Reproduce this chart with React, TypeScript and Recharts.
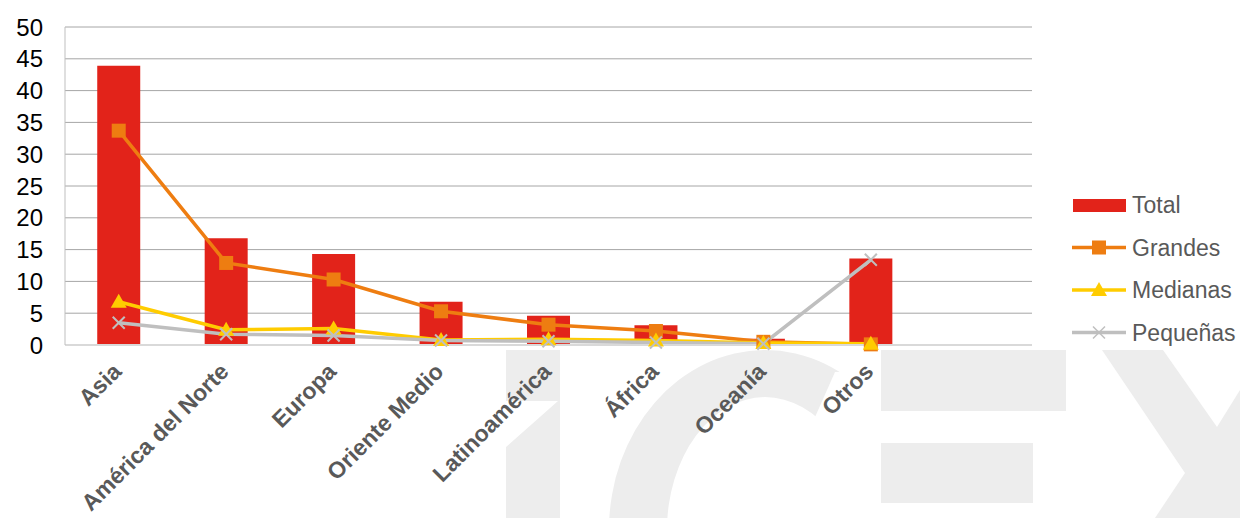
import React from "react"
import {
  ComposedChart,
  Bar,
  Line,
  XAxis,
  YAxis,
  CartesianGrid
} from "recharts"

const regions = [
  "Asia",
  "América del Norte",
  "Europa",
  "Oriente Medio",
  "Latinoamérica",
  "África",
  "Oceanía",
  "Otros",
  ""
]
const total = [43.9, 16.8, 14.3, 6.8, 4.6, 3.1, 1.0, 13.6, null]
const grandes = [33.7, 12.9, 10.3, 5.3, 3.2, 2.2, 0.5, 0.1, null]
const medianas = [6.8, 2.4, 2.6, 0.8, 0.9, 0.7, 0.3, 0.2, null]
const pequenas = [3.5, 1.7, 1.5, 0.7, 0.6, 0.4, 0.2, 13.4, null]
const yTicks = [0, 5, 10, 15, 20, 25, 30, 35, 40, 45, 50]

const RED = "#E2231A"
const ORANGE = "#EE7D11"
const YELLOW = "#FFCC00"
const GRAY = "#BFBFBF"
const FONT = "'Liberation Sans', Arial, sans-serif"

const data = regions.map((r, i) => ({
  region: r,
  total: total[i],
  grandes: grandes[i],
  medianas: medianas[i],
  pequenas: pequenas[i]
}))

const SquareDot = (props: any) => {
  const { cx, cy, index } = props
  if (cx == null || cy == null || props.value == null) return <g key={index} />
  return <rect key={index} x={cx - 7} y={cy - 7} width={14} height={14} fill={ORANGE} />
}

const TriangleDot = (props: any) => {
  const { cx, cy, index } = props
  if (cx == null || cy == null || props.value == null) return <g key={index} />
  return (
    <polygon
      key={index}
      points={`${cx},${cy - 8} ${cx + 8},${cy + 6} ${cx - 8},${cy + 6}`}
      fill={YELLOW}
    />
  )
}

const CrossDot = (props: any) => {
  const { cx, cy, index } = props
  if (cx == null || cy == null || props.value == null) return <g key={index} />
  return (
    <g key={index} stroke={GRAY} strokeWidth={2}>
      <line x1={cx - 6} y1={cy - 6} x2={cx + 6} y2={cy + 6} />
      <line x1={cx - 6} y1={cy + 6} x2={cx + 6} y2={cy - 6} />
    </g>
  )
}

const XTick = (props: any) => {
  const { x, y, payload } = props
  const tx = x + 4
  const ty = y + 20
  return (
    <text
      x={tx}
      y={ty}
      transform={`rotate(-45, ${tx}, ${ty})`}
      textAnchor="end"
      fontFamily={FONT}
      fontWeight="bold"
      fontSize={23}
      fill="#595959"
    >
      {payload.value}
    </text>
  )
}

const legendItems = [
  { name: "Total", kind: "bar", color: RED },
  { name: "Grandes", kind: "square", color: ORANGE },
  { name: "Medianas", kind: "triangle", color: YELLOW },
  { name: "Pequeñas", kind: "cross", color: GRAY }
]

const LegendBox = () => (
  <svg width={175} height={170} style={{ position: "absolute", left: 1066, top: 188 }}>
    {legendItems.map((it, i) => {
      const cy = 17 + i * 42.5
      return (
        <g key={it.name}>
          {it.kind === "bar" ? (
            <rect x={7} y={cy - 6} width={53} height={13} fill={it.color} />
          ) : (
            <line x1={6} y1={cy} x2={60} y2={cy} stroke={it.color} strokeWidth={3.5} />
          )}
          {it.kind === "square" && <rect x={26} y={cy - 7} width={14} height={14} fill={it.color} />}
          {it.kind === "triangle" && (
            <polygon points={`33,${cy - 8} 41,${cy + 6} 25,${cy + 6}`} fill={it.color} />
          )}
          {it.kind === "cross" && (
            <g stroke={it.color} strokeWidth={1.5}>
              <line x1={27} y1={cy - 6} x2={39} y2={cy + 6} />
              <line x1={27} y1={cy + 6} x2={39} y2={cy - 6} />
            </g>
          )}
          <text x={66} y={cy + 8} fontFamily={FONT} fontSize={23} fill="#595959">
            {it.name}
          </text>
        </g>
      )
    })}
  </svg>
)

// faint logo in the background
const Watermark = () => (
  <svg width={1240} height={518} style={{ position: "absolute", left: 0, top: 0 }}>
    <g fill="#EDEDED">
      <polygon points="506,350 560,350 560,518 506,518 506,447 558,401 506,401" />
      <path
        fillRule="evenodd"
        d="M 609 530 A 156 180 0 0 1 921 530 L 863 530 A 98 133 0 0 0 667 530 Z"
      />
      <polygon points="765,530 835,372 921,372 921,530" fill="#ffffff" />
      <rect x={881} y={350} width={185} height={61} />
      <rect x={881} y={443} width={152} height={60} />
      <polygon points="1102,350 1163,350 1217,427 1240,390 1240,518 1155,518 1185,473" />
    </g>
  </svg>
)

export default function App() {
  return (
    <div style={{ position: "absolute", left: 0, top: 0, width: 1240, height: 518, background: "#fff" }}>
      <Watermark />
      <div style={{ position: "absolute", left: 0, top: 0 }}>
        <ComposedChart
          width={1240}
          height={518}
          data={data}
          margin={{ top: 27, right: 208, left: 10, bottom: 23 }}
          barCategoryGap="30%"
        >
          <CartesianGrid vertical={false} stroke="#A6A6A6" strokeWidth={1} />
          <XAxis
            dataKey="region"
            interval={0}
            height={150}
            tickLine={false}
            axisLine={{ stroke: "#D9D9D9", strokeWidth: 2 }}
            tick={<XTick />}
          />
          <YAxis
            domain={[0, 50]}
            ticks={yTicks}
            interval={0}
            width={55}
            tickLine={false}
            tickSize={0}
            tickMargin={22}
            axisLine={{ stroke: "#BFBFBF" }}
            tick={{ fontSize: 24, fill: "#000", fontFamily: FONT }}
          />
          <Bar dataKey="total" name="Total" fill={RED} isAnimationActive={false} />
          <Line
            type="linear"
            dataKey="grandes"
            name="Grandes"
            stroke={ORANGE}
            strokeWidth={3.5}
            dot={<SquareDot />}
            isAnimationActive={false}
          />
          <Line
            type="linear"
            dataKey="medianas"
            name="Medianas"
            stroke={YELLOW}
            strokeWidth={3.5}
            dot={<TriangleDot />}
            isAnimationActive={false}
          />
          <Line
            type="linear"
            dataKey="pequenas"
            name="Pequeñas"
            stroke={GRAY}
            strokeWidth={3.5}
            dot={<CrossDot />}
            isAnimationActive={false}
          />
        </ComposedChart>
      </div>
      <LegendBox />
    </div>
  )
}
